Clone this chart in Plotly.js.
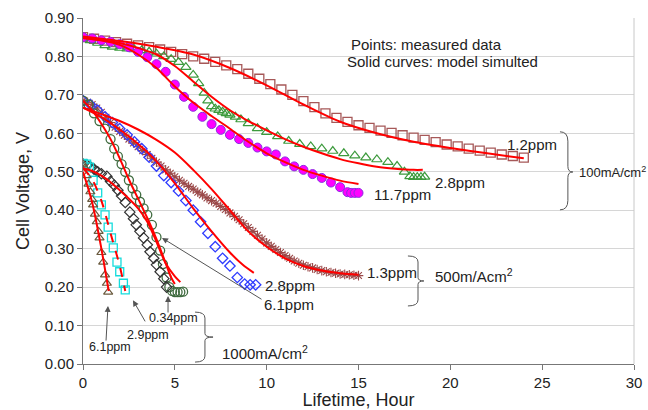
<!DOCTYPE html>
<html>
<head>
<meta charset="utf-8">
<script src="https://cdn.plot.ly/plotly-3.0.1.min.js"></script>
<style>html,body{margin:0;padding:0;background:#fff;}#chart{width:648px;height:410px;}</style>
</head>
<body>
<div id="chart"></div>
<script>
// ---------- 100 mA/cm2 ----------
const sq12_x = [0,0.6,1.2,1.8,2.4,3.0,3.6,4.2,4.8,5.4,6.0,6.6,7.2,7.8,8.4,9.0,9.6,10.2,10.8,11.4,12.0,12.6,13.2,13.8,14.4,15.0,15.6,16.2,16.8,17.4,18.0,18.6,19.2,19.8,20.4,21.0,21.6,22.2,22.8,23.4,24.0];
const sq12_y = [0.850,0.846,0.841,0.837,0.833,0.829,0.824,0.818,0.812,0.806,0.800,0.794,0.786,0.777,0.767,0.755,0.742,0.728,0.714,0.700,0.684,0.668,0.652,0.640,0.630,0.621,0.614,0.607,0.601,0.595,0.589,0.583,0.577,0.571,0.566,0.560,0.555,0.550,0.545,0.541,0.537];
const md12_x = [0,2,4,6,8,10,12,14,16,18,20,22,24];
const md12_y = [0.852,0.840,0.825,0.805,0.770,0.725,0.675,0.630,0.600,0.578,0.562,0.548,0.535];

const tr28_x = [0,0.4,0.8,1.2,1.6,2.0,2.4,2.8,3.2,3.6,4.0,4.4,4.8,5.2,5.6,6.0,6.3,6.6,6.8,7.0,7.2,7.4,7.6,7.8,8.0,8.3,8.6,9.0,9.5,10.0,10.6,11.2,11.8,12.4,13.0,13.6,14.2,14.8,15.4,16.0,16.6,17.1,17.5,17.8,18.0,18.2,18.4,18.6];
const tr28_y = [0.848,0.842,0.835,0.829,0.825,0.822,0.820,0.818,0.816,0.812,0.807,0.800,0.793,0.785,0.772,0.752,0.730,0.705,0.685,0.670,0.664,0.660,0.656,0.652,0.648,0.643,0.636,0.626,0.613,0.603,0.592,0.580,0.572,0.566,0.560,0.554,0.548,0.542,0.537,0.532,0.525,0.515,0.500,0.488,0.486,0.486,0.486,0.487];
const md28_x = [0,1,2,3,4,5,6,7,8,9,10,11,12,13,14,15,16,17,18,18.5];
const md28_y = [0.848,0.842,0.835,0.822,0.805,0.775,0.735,0.695,0.660,0.632,0.608,0.585,0.565,0.548,0.533,0.522,0.513,0.508,0.505,0.505];

const ci117_x = [0,0.5,1.0,1.5,2.0,2.5,3.0,3.5,4.0,4.5,5.0,5.5,6.0,6.5,7.0,7.5,8.0,8.5,9.0,9.5,10.0,10.5,11.0,11.5,12.0,12.5,13.0,13.5,14.0,14.4,14.6,14.8,15.0];
const ci117_y = [0.850,0.847,0.842,0.838,0.832,0.824,0.812,0.798,0.780,0.760,0.727,0.695,0.669,0.643,0.624,0.609,0.596,0.585,0.575,0.563,0.553,0.545,0.527,0.514,0.505,0.494,0.484,0.472,0.460,0.447,0.445,0.445,0.445];
const md117_x = [0,1,2,3,4,5,6,7,8,9,10,11,12,13,14,15];
const md117_y = [0.848,0.842,0.830,0.805,0.770,0.722,0.680,0.645,0.612,0.578,0.548,0.525,0.505,0.490,0.477,0.468];

// ---------- 500 mA/cm2 ----------
const x13_x = [0,0.25,0.5,0.75,1.0,1.25,1.5,1.75,2.0,2.25,2.5,2.75,3.0,3.25,3.5,3.75,4.0,4.25,4.5,4.75,5.0,5.25,5.5,5.75,6.0,6.25,6.5,6.75,7.0,7.25,7.5,7.75,8.0,8.25,8.5,8.75,9.0,9.25,9.5,9.75,10.0,10.25,10.5,10.75,11.0,11.25,11.5,11.75,12.0,12.25,12.5,12.75,13.0,13.25,13.5,13.75,14.0,14.25,14.5,14.75,15.0];
const x13_y = [0.685,0.681,0.675,0.666,0.655,0.642,0.628,0.616,0.605,0.595,0.585,0.575,0.565,0.555,0.545,0.535,0.525,0.515,0.505,0.496,0.487,0.478,0.470,0.462,0.455,0.447,0.440,0.432,0.425,0.418,0.410,0.402,0.393,0.384,0.375,0.365,0.355,0.345,0.335,0.325,0.315,0.306,0.298,0.290,0.282,0.275,0.268,0.262,0.257,0.253,0.250,0.246,0.243,0.240,0.238,0.236,0.234,0.233,0.232,0.231,0.230];
const md13_x = [0,1,2,3,4,5,6,7,8,9,10,11,12,13,14,15];
const md13_y = [0.667,0.650,0.632,0.610,0.583,0.550,0.505,0.455,0.400,0.345,0.305,0.275,0.255,0.243,0.236,0.232];

const dm28_x = [0,0.4,0.8,1.2,1.6,2.0,2.4,2.8,3.2,3.6,4.0,4.4,4.8,5.2,5.6,6.0,6.4,6.8,7.2,7.6,8.0,8.4,8.8,9.1,9.4];
const dm28_y = [0.685,0.675,0.660,0.643,0.628,0.612,0.596,0.578,0.560,0.538,0.515,0.490,0.472,0.450,0.425,0.400,0.370,0.340,0.305,0.275,0.255,0.225,0.208,0.206,0.206];
const md28b_x = [0,1,2,3,4,5,6,7,8,8.7,9.3];
const md28b_y = [0.667,0.642,0.610,0.572,0.527,0.470,0.405,0.345,0.290,0.258,0.237];

const gc61_x = [0,0.3,0.6,0.9,1.2,1.5,1.7,1.9,2.1,2.3,2.5,2.7,2.9,3.1,3.3,3.5,3.75,4.0,4.2,4.35,4.55,4.7,4.85,5.0,5.15,5.3,5.45];
const gc61_y = [0.685,0.675,0.652,0.632,0.612,0.585,0.560,0.540,0.520,0.500,0.478,0.457,0.440,0.422,0.405,0.388,0.362,0.330,0.295,0.260,0.225,0.200,0.190,0.187,0.187,0.187,0.188];
const md61_x = [0,0.5,1,1.5,2,2.5,3,3.5,4,4.4,4.8,5.0];
const md61_y = [0.685,0.660,0.625,0.585,0.535,0.480,0.430,0.380,0.325,0.275,0.225,0.208];

// ---------- 1000 mA/cm2 ----------
const bd034_x = [0,0.2,0.4,0.6,0.8,1.0,1.3,1.5,1.7,1.9,2.1,2.3,2.55,2.75,2.9,3.1,3.3,3.5,3.65,3.85,4.0,4.2,4.4,4.55];
const bd034_y = [0.520,0.518,0.513,0.507,0.500,0.495,0.488,0.475,0.465,0.452,0.437,0.420,0.395,0.378,0.362,0.345,0.328,0.310,0.292,0.275,0.258,0.240,0.222,0.200];
const md034_x = [0,0.5,1,1.5,2,2.5,3,3.5,4,4.5,5,5.3];
const md034_y = [0.510,0.502,0.490,0.473,0.452,0.430,0.405,0.370,0.318,0.262,0.228,0.213];

const cs29_x = [0,0.2,0.35,0.55,0.8,1.0,1.2,1.37,1.55,1.65,1.85,2.0,2.2,2.3];
const cs29_y = [0.522,0.520,0.512,0.478,0.445,0.414,0.388,0.356,0.328,0.302,0.265,0.240,0.210,0.193];
const md29_x = [0,0.5,1.0,1.5,2.0,2.3];
const md29_y = [0.510,0.480,0.425,0.340,0.255,0.190];

const ot61_x = [0,0.1,0.2,0.3,0.4,0.5,0.55,0.65,0.75,0.85,0.9,1.0,1.1,1.2,1.3,1.37];
const ot61_y = [0.520,0.510,0.490,0.468,0.448,0.428,0.414,0.390,0.370,0.345,0.328,0.290,0.265,0.232,0.210,0.187];
const md61b_x = [0,0.5,1.0,1.4];
const md61b_y = [0.500,0.420,0.300,0.190];

// ---------- texts ----------
const FONT = 'Liberation Sans, Arial, Helvetica, sans-serif';
const TXT = '#222';

function pts(x, y, symbol, color, size, fill, lw) {
  return {x: x, y: y, type: 'scatter', mode: 'markers', hoverinfo: 'skip',
    marker: {symbol: symbol, size: size, color: fill || color,
             line: {color: color, width: lw || 1.2}}};
}
function model(x, y, dash) {
  return {x: x, y: y, type: 'scatter', mode: 'lines', hoverinfo: 'skip',
    line: {color: '#ff0000', width: 2, shape: 'spline', smoothing: 0.8, dash: dash || 'solid'}};
}

const traces = [
  pts(sq12_x, sq12_y, 'square-open', '#a65858', 9, null, 1.3),
  pts(tr28_x, tr28_y, 'triangle-up-open', '#3c9a3c', 9, null, 1.2),
  pts(ci117_x, ci117_y, 'circle', '#8a2be2', 9, '#ff00ff', 1),
  pts(x13_x, x13_y, 'asterisk-open', '#9a4848', 8, null, 1.1),
  pts(dm28_x, dm28_y, 'diamond-open', '#2f3cff', 8, null, 1.3),
  pts(gc61_x, gc61_y, 'circle-open', '#3f6b3f', 9, null, 1.3),
  pts(bd034_x, bd034_y, 'diamond-open', '#333333', 8, null, 1.2),
  pts(cs29_x, cs29_y, 'square-open', '#14dcdc', 8, null, 1.3),
  pts(ot61_x, ot61_y, 'triangle-up-open', '#6a5a3e', 8, null, 1.2),
  model(md12_x, md12_y),
  model(md28_x, md28_y),
  model(md117_x, md117_y),
  model(md13_x, md13_y),
  model(md28b_x, md28b_y),
  model(md61_x, md61_y),
  model(md034_x, md034_y),
  model(md29_x, md29_y, 'dash'),
  model(md61b_x, md61b_y)
];

function brace(x0, xm, xt, yTop, yBot, yTip) {
  const r = (yTop - yBot) * 0.12;
  return {type: 'path', xref: 'x', yref: 'y', line: {color: '#555', width: 1},
    path: 'M ' + x0 + ',' + yTop + ' Q ' + xm + ',' + yTop + ' ' + xm + ',' + (yTop - r) +
          ' L ' + xm + ',' + (yTip + r * 0.6) + ' Q ' + xm + ',' + yTip + ' ' + xt + ',' + yTip +
          ' Q ' + xm + ',' + yTip + ' ' + xm + ',' + (yTip - r * 0.6) +
          ' L ' + xm + ',' + (yBot + r) + ' Q ' + xm + ',' + yBot + ' ' + x0 + ',' + yBot};
}

function label(x, y, text, size, anchor) {
  return {x: x, y: y, xref: 'x', yref: 'y', text: text, showarrow: false,
    xanchor: anchor || 'left', yanchor: 'middle', font: {family: FONT, size: size, color: TXT}};
}
function arrow(xt, yt, xh, yh) {
  return {x: xh, y: yh, ax: xt, ay: yt, xref: 'x', yref: 'y', axref: 'x', ayref: 'y',
    text: '', showarrow: true, arrowhead: 2, arrowsize: 1.2, arrowwidth: 1, arrowcolor: '#555', standoff: 0};
}

const annotations = [
  label(18.7, 0.830, 'Points: measured data', 15, 'center'),
  label(19.6, 0.786, 'Solid curves: model simulted', 15, 'center'),
  label(22.97, 0.570, '1.2ppm', 15),
  label(19.05, 0.471, '2.8ppm', 15),
  label(15.73, 0.440, '11.7ppm', 15),
  label(26.9, 0.4995, '100mA/cm<sup>2</sup>', 13),
  label(15.35, 0.237, '1.3ppm', 15),
  label(19.05, 0.2315, '500m/Acm<sup>2</sup>', 15),
  label(9.80, 0.203, '2.8ppm', 15),
  label(9.74, 0.1535, '6.1ppm', 15),
  label(3.48, 0.120, '0.34ppm', 12.5),
  label(2.29, 0.0754, '2.9ppm', 12.5),
  label(0.22, 0.044, '6.1ppm', 12.5),
  label(7.46, 0.031, '1000mA/cm<sup>2</sup>', 15),
  arrow(9.80, 0.166, 4.30, 0.328),
  arrow(4.63, 0.130, 4.63, 0.177),
  arrow(3.43, 0.107, 2.72, 0.166),
  arrow(1.25, 0.057, 1.36, 0.151)
];

const shapes = [
  {type: 'line', xref: 'paper', yref: 'paper', x0: 1, x1: 1, y0: 0, y1: 1, line: {color: '#c8c8c8', width: 1}},
  brace(25.97, 26.40, 26.67, 0.604, 0.401, 0.4995),
  brace(17.69, 18.24, 18.56, 0.281, 0.151, 0.216),
  brace(6.10, 6.64, 7.08, 0.135, 0.005, 0.070)
];

const layout = {
  width: 648, height: 410,
  margin: {l: 83, r: 14, t: 18, b: 46},
  paper_bgcolor: '#fff', plot_bgcolor: '#fff',
  showlegend: false,
  font: {family: FONT, color: TXT},
  xaxis: {range: [0, 30], tickmode: 'array', tickvals: [0,5,10,15,20,25,30], ticktext: ['0','5','10','15','20','25','30'],
    showgrid: false, zeroline: false, showline: true, linecolor: '#777', linewidth: 1,
    ticks: 'outside', ticklen: 5, tickcolor: '#777', tickfont: {size: 15, family: FONT, color: TXT},
    title: {text: 'Lifetime, Hour', font: {size: 18, family: FONT, color: TXT}, standoff: 4}},
  yaxis: {range: [0, 0.9], dtick: 0.1, tick0: 0, tickformat: '.2f',
    showgrid: true, gridcolor: '#d6d6d6', gridwidth: 1, zeroline: false, showline: true, linecolor: '#777', linewidth: 1,
    ticks: 'outside', ticklen: 5, tickcolor: '#777', tickfont: {size: 15, family: FONT, color: TXT},
    title: {text: 'Cell Voltage, V', font: {size: 18, family: FONT, color: TXT}, standoff: 10}},
  annotations: annotations,
  shapes: shapes
};

Plotly.newPlot('chart', traces, layout, {staticPlot: true, displayModeBar: false});
</script>
</body>
</html>
